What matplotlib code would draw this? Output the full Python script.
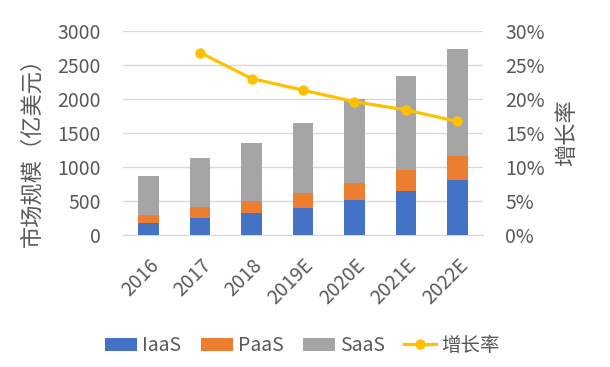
import numpy as np
import matplotlib.pyplot as plt

plt.rcParams['font.family'] = ['Noto Sans CJK SC', 'DejaVu Sans']

years = ["2016", "2017", "2018", "2019E", "2020E", "2021E", "2022E"]
iaas = [185, 254, 331, 405, 518, 654, 811]
paas = [113, 156, 172, 211, 253, 303, 352]
saas = [576, 723, 855, 1030, 1227, 1378, 1564]
growth_years = ["2017", "2018", "2019E", "2020E", "2021E", "2022E"]
growth = [26.8, 23.0, 21.3, 19.6, 18.4, 16.7]

TXT = '#595959'
fig = plt.figure(figsize=(6.1, 3.67), dpi=100)
ax = fig.add_axes([0.2016, 0.359, 0.5902, 0.557])
x = np.arange(len(years))
w = 0.4
b1 = ax.bar(x, iaas, w, color='#4472C4', label='IaaS', zorder=3)
b2 = ax.bar(x, paas, w, bottom=iaas, color='#ED7D31', label='PaaS', zorder=3)
bottom2 = np.array(iaas) + np.array(paas)
b3 = ax.bar(x, saas, w, bottom=bottom2, color='#A5A5A5', label='SaaS', zorder=3)

ax.set_xlim(-0.5, len(years) - 0.5)
ax.set_ylim(0, 3000)
ax.set_yticks(np.arange(0, 3001, 500))
ax.yaxis.grid(True, color='#D9D9D9', linewidth=1, zorder=0)
for s in ax.spines.values():
    s.set_visible(False)
ax.spines['bottom'].set_visible(True)
ax.spines['bottom'].set_color('#D9D9D9')
ax.set_xticks(x)
ax.set_xticklabels(years, rotation=45, ha='right', rotation_mode='anchor')
ax.tick_params(axis='both', length=0, labelsize=14, colors=TXT)
ax.tick_params(axis='y', pad=16)
ax.tick_params(axis='x', pad=14)
ax.set_ylabel('市场规模（亿美元）', fontsize=16, color=TXT)
ax.yaxis.set_label_coords(-0.222, 0.43)

ax2 = ax.twinx()
gx = [years.index(g) for g in growth_years]
ln, = ax2.plot(gx, growth, color='#FFC000', linewidth=2.3, marker='o', markersize=6.5, label='增长率', zorder=4)
ax2.set_ylim(0, 30)
ax2.set_yticks(np.arange(0, 31, 5))
ax2.set_yticklabels([f'{v}%' for v in range(0, 31, 5)])
for s in ax2.spines.values():
    s.set_visible(False)
ax2.tick_params(axis='y', length=0, labelsize=14, colors=TXT, pad=16)
ax2.set_ylabel('增长率', fontsize=16, color=TXT, rotation=90)
ax2.yaxis.set_label_coords(1.20, 0.5)

handles = [b1, b2, b3, ln]
labels = ['IaaS', 'PaaS', 'SaaS', '增长率']
leg = fig.legend(handles, labels, loc='center', bbox_to_anchor=(0.496, 0.058), ncol=4,
                 frameon=False, fontsize=14, handlelength=1.65, handleheight=0.7,
                 columnspacing=1.0, handletextpad=0.25)
for t in leg.get_texts():
    t.set_color(TXT)

fig.savefig('out.png', dpi=100)
